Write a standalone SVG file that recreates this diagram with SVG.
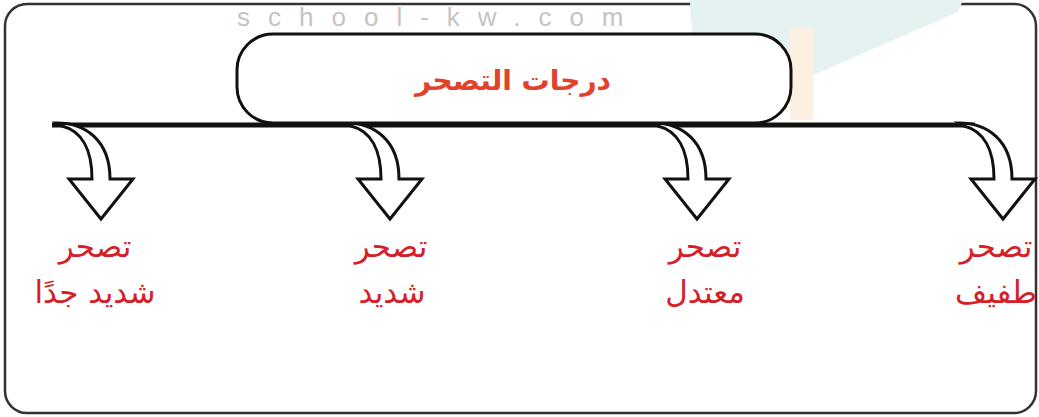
<svg xmlns="http://www.w3.org/2000/svg" width="1039" height="417" viewBox="0 0 1039 417">
<defs>
<style>
.frame{fill:#ffffff;stroke:#333333;stroke-width:2.5}
.pill{fill:#ffffff;stroke:#111111;stroke-width:3}
.arrow{fill:#ffffff;stroke:#111111;stroke-width:3;stroke-linejoin:miter}
.line{stroke:#111111;stroke-width:5;fill:none}
.title{font-family:"DejaVu Sans",sans-serif;font-weight:bold;font-size:28px;fill:#e2412b;text-anchor:middle}
.lbl{font-family:"DejaVu Sans",sans-serif;font-size:31px;fill:#d42027;text-anchor:middle}
.wm{font-family:"Liberation Sans",sans-serif;font-size:26px;fill:#c4c4c4;letter-spacing:18px}
</style>
<path id="arr" d="M 2,123 C 30,123 55,140 55,179 L 78,179 L 46,219 L 14,179 L 37,179 C 37,150 27,131 7,126 Z"/>
</defs>
<rect class="frame" x="5" y="4" width="1031" height="409" rx="22"/>
<g id="watermark">
<path d="M 690,0 L 963,0 L 958,12 L 820,72 L 800,80 C 790,95 770,102 748,100 C 715,95 690,60 690,0 Z" fill="#e6f1f1"/>
<rect x="790" y="28" width="23" height="92" fill="#fdf0e2"/>
<text class="wm" x="237" y="26">school-kw.com</text>
</g>
<g id="connectors">
<line class="line" x1="52" y1="125" x2="975" y2="125"/>
<use href="#arr" class="arrow" x="55" y="0"/>
<use href="#arr" class="arrow" x="344" y="0"/>
<use href="#arr" class="arrow" x="651" y="0"/>
<use href="#arr" class="arrow" x="957" y="0"/>
</g>
<g id="title">
<rect class="pill" x="237" y="34" width="554" height="89" rx="36"/>
<text class="title" x="513" y="90">درجات التصحر</text>
</g>
<g id="n1">
<text class="lbl" x="95" y="257">تصحر</text>
<text class="lbl" x="95" y="303">شديد جدًا</text>
</g>
<g id="n2">
<text class="lbl" x="391" y="257">تصحر</text>
<text class="lbl" x="392" y="303">شديد</text>
</g>
<g id="n3">
<text class="lbl" x="705" y="257">تصحر</text>
<text class="lbl" x="705" y="303">معتدل</text>
</g>
<g id="n4">
<text class="lbl" x="996" y="257">تصحر</text>
<text class="lbl" x="996" y="303">طفيف</text>
</g>
</svg>
